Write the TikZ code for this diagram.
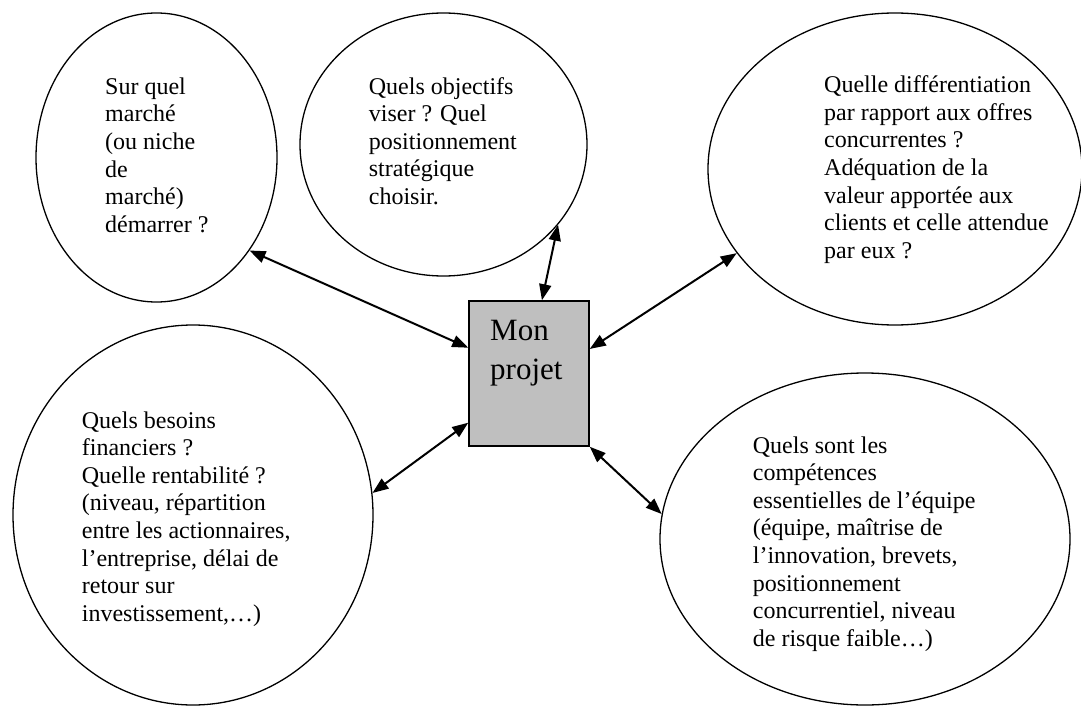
\documentclass[tikz,border=0pt]{standalone}
\usepackage{fontspec}
\setmainfont{Liberation Serif}
\usetikzlibrary{shapes.geometric,arrows.meta}

\begin{document}
\begin{tikzpicture}[x=1pt,y=-1pt,
    bulle/.style={ellipse,draw,line width=1.3pt,inner sep=0pt},
    texte/.style={anchor=base west,align=left,inner sep=0pt,font=\fontsize{24}{27.6}\selectfont},
    lien/.style={<->,>={Triangle[length=16pt,width=12pt]},line width=2pt}]
      \useasboundingbox (0,0) rectangle (1081,706);
      % les bulles
      \node[bulle,minimum width=241pt,minimum height=289pt] (marche) at (156.5,157.5) {};
      \node[bulle,minimum width=287pt,minimum height=263pt] (objectifs) at (443.5,144.5) {};
      \node[bulle,minimum width=374pt,minimum height=312pt] (offres) at (895,169) {};
      \node[bulle,minimum width=360pt,minimum height=380pt] (besoins) at (193,515) {};
      \node[bulle,minimum width=410pt,minimum height=332pt] (equipe) at (865,539) {};
      % le projet au centre
      \node[draw,fill=gray!50,line width=1.5pt,minimum width=120pt,minimum height=145pt,inner sep=0pt] (projet) at (529,373.5) {};
      \node[anchor=base west,align=left,inner sep=0pt,font=\fontsize{31}{39}\selectfont] (titre) at (490,379) {Mon\\projet};
      % les textes (ancre sur la derniere ligne)
      \node[texte] (tmarche) at (105,232.3) {Sur quel\\marché\\(ou niche\\de\\marché)\\démarrer ?};
      \node[texte] (tobjectifs) at (368.7,204.4) {Quels objectifs\\viser ? Quel\\positionnement\\stratégique\\choisir.};
      \node[texte] (toffres) at (824,258.3) {Quelle différentiation\\par rapport aux offres\\concurrentes ?\\Adéquation de la\\valeur apportée aux\\clients et celle attendue\\par eux ?};
      \node[texte] (tbesoins) at (81.7,621.2) {Quels besoins\\financiers ?\\Quelle rentabilité ?\\(niveau, répartition\\entre les actionnaires,\\l’entreprise, délai de\\retour sur\\investissement,…)};
      \node[texte] (tequipe) at (752.7,646.2) {Quels sont les\\compétences\\essentielles de l’équipe\\(équipe, maîtrise de\\l’innovation, brevets,\\positionnement\\concurrentiel, niveau\\de risque faible…)};
      % les liens
      \draw[lien] (marche.-45) -- (projet.157);
      \draw[lien] (objectifs.-35) -- (projet.80);
      \draw[lien] (offres.-152.6) -- (projet.22.7);
      \draw[lien] (besoins.7) -- (projet.219.2);
      \draw[lien] (equipe.173.8) -- (projet.south east);
\end{tikzpicture}
\end{document}
